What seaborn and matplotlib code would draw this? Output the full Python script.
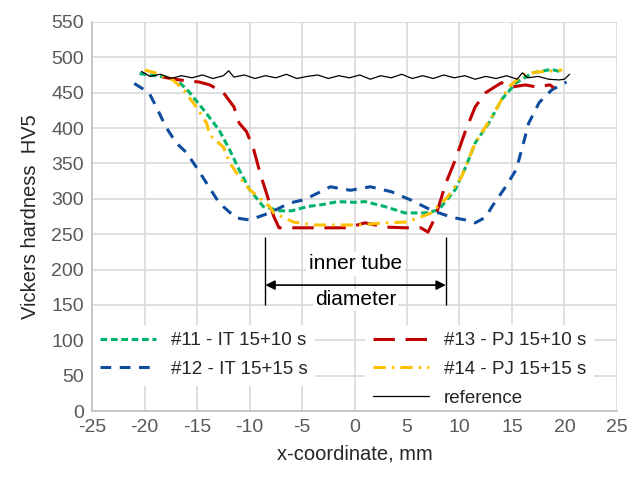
import numpy as np
import pandas as pd
import seaborn as sns
import matplotlib.pyplot as plt

# data
x11 = [-20.5, -19, -18, -17, -16, -14.4, -12.9, -11.9, -11, -10, -8.7, -7.1, -6, -4.5, -3, -1.6, 0, 1, 2.9, 4.8, 6.7, 8, 9.6, 10.6, 11.5, 12.8, 14, 15.4, 17, 18.8, 19.5]
y11 = [477, 474, 472, 468, 455, 426, 397, 369, 341, 313, 289, 283, 283, 289, 292, 296, 295, 296, 289, 280, 280, 284, 313, 345, 379, 407, 440, 464, 478, 483, 480]

x12 = [-21, -19.6, -18.9, -18, -17, -16, -15.1, -14.1, -12.9, -11.3, -10, -8.1, -6.2, -5, -4.2, -2.3, -0.4, 1.5, 3.5, 5.4, 7.3, 9.2, 10.6, 11.5, 12.5, 13.1, 14.4, 15.4, 16, 16.6, 17.6, 18.8, 20.2]
y12 = [463, 450, 430, 402, 379, 365, 345, 322, 294, 273, 270, 280, 294, 298, 303, 317, 312, 317, 310, 298, 284, 274, 270, 266, 274, 289, 317, 341, 373, 407, 436, 454, 465]

x13 = [-18.3, -16.7, -14.8, -13.8, -12.5, -11.5, -11, -10.3, -9.6, -9, -8.4, -7.7, -7.2, -5.5, -2.9, -0.7, 1, 2.9, 4.8, 6.3, 7, 7.7, 8.7, 9.6, 10.6, 11.5, 12.5, 14, 15, 16.3, 17.3, 18.6, 19]
y13 = [472, 468, 465, 461, 450, 430, 407, 395, 369, 336, 308, 275, 259, 259, 259, 259, 266, 260, 259, 259, 253, 274, 322, 355, 397, 430, 450, 464, 458, 461, 458, 461, 457]

x14 = [-20, -19, -17.3, -16.3, -15.1, -14.1, -13.8, -12.5, -11.9, -11, -10, -8.1, -7.7, -5.8, -3.8, -1.6, 0.3, 2.9, 4.8, 6.1, 7.3, 8.9, 10.2, 11.5, 13.1, 14.7, 16, 17.3, 19.8]
y14 = [482, 478, 468, 454, 430, 407, 390, 373, 351, 331, 313, 289, 280, 267, 263, 263, 263, 266, 267, 273, 280, 303, 331, 379, 416, 458, 475, 479, 482]

x_ref = [-20.3, -19.5, -18.5, -17.5, -16.5, -15.5, -14.5, -13.5, -12.5, -12, -11.5, -10.5, -9.5, -8.5, -7.5, -6.5, -5.5, -4.5, -3.5, -2.5, -1.5, -0.5, 0.5, 1.5, 2.5, 3.5, 4.5, 5.5, 6.5, 7.5, 8.5, 9.5, 10.5, 11.5, 12.5, 13.5, 14.5, 15.5, 16, 16.5, 17.5, 18.5, 19.5, 20, 20.5]
y_ref = [480, 473, 476, 470, 474, 471, 475, 470, 474, 481, 472, 475, 470, 474, 471, 476, 470, 473, 475, 470, 474, 471, 475, 469, 474, 471, 476, 470, 474, 470, 475, 471, 474, 469, 473, 470, 474, 469, 478, 471, 473, 469, 468, 469, 476]

diam_left, diam_right = -8.5, 8.7

sns.set_theme(style="whitegrid")
plt.rcParams['font.family'] = ['Liberation Sans', 'DejaVu Sans']
plt.rcParams['axes.unicode_minus'] = False

fig = plt.figure(figsize=(6.32, 4.87), dpi=100)
ax = fig.add_axes([0.146, 0.156, 0.83, 0.799])

c11, c12, c13, c14 = '#00b36b', '#0e4c9e', '#c00000', '#ffc000'
lw = 2.2
sns.lineplot(x=x11, y=y11, ax=ax, color=c11, lw=lw)
ax.lines[-1].set_dashes((2.2, 1.2))
h11 = ax.lines[-1]
sns.lineplot(x=x12, y=y12, ax=ax, color=c12, lw=lw)
ax.lines[-1].set_dashes((3.5, 2.8))
h12 = ax.lines[-1]
sns.lineplot(x=x13, y=y13, ax=ax, color=c13, lw=lw)
ax.lines[-1].set_dashes((7, 3.5))
h13 = ax.lines[-1]
sns.lineplot(x=x14, y=y14, ax=ax, color=c14, lw=lw)
ax.lines[-1].set_dashes((4, 2, 0.8, 2))
h14 = ax.lines[-1]
sns.lineplot(x=x_ref, y=y_ref, ax=ax, color='black', lw=0.9)
href = ax.lines[-1]

ax.set_xlim(-25, 25)
ax.set_ylim(0, 550)
ax.set_xticks(np.arange(-25, 26, 5))
ax.set_yticks(np.arange(0, 551, 50))
ax.grid(True, color='#d9d9d9', lw=1.2)
for s in ['top', 'right']:
    ax.spines[s].set_visible(False)
for s in ['left', 'bottom']:
    ax.spines[s].set_color('#bfbfbf')
    ax.spines[s].set_linewidth(1.2)
ax.tick_params(axis='both', length=0, labelsize=14, labelcolor='#595959', pad=6)
ax.set_xlabel('x-coordinate, mm', fontsize=14.5, color='#262626', labelpad=6)
ax.set_ylabel('Vickers hardness  HV5', fontsize=14.5, color='#262626', labelpad=8)

# inner tube diameter annotation
ax.vlines([diam_left, diam_right], 150, 246, color='black', lw=1)
ax.annotate('', xy=(diam_left, 178), xytext=(diam_right, 178),
            arrowprops=dict(arrowstyle='<|-|>', color='black', lw=1.2,
                            shrinkA=0, shrinkB=0, mutation_scale=14))
ax.text(0.1, 208, 'inner tube', ha='center', va='center', fontsize=15,
        color='black', bbox=dict(facecolor='white', edgecolor='none', pad=2))
ax.text(0.1, 157, 'diameter', ha='center', va='center', fontsize=15,
        color='black', bbox=dict(facecolor='white', edgecolor='none', pad=1))

leg_kw = dict(loc='upper left', fontsize=13.5, handlelength=3.0, frameon=True,
              facecolor='white', edgecolor='none', framealpha=1,
              labelspacing=0.62, borderaxespad=0, fancybox=False)
leg1 = ax.legend([h11, h12], ['#11 - IT 15+10 s', '#12 - IT 15+15 s'],
                 bbox_to_anchor=(0.0, 0.222), **leg_kw)
leg1.set_zorder(2.4)
ax.add_artist(leg1)
leg2 = ax.legend([h13, h14, href], ['#13 - PJ 15+10 s', '#14 - PJ 15+15 s', 'reference'],
                 bbox_to_anchor=(0.52, 0.222), **leg_kw)
leg2.set_zorder(2.4)

fig.savefig('out.png', dpi=100)
